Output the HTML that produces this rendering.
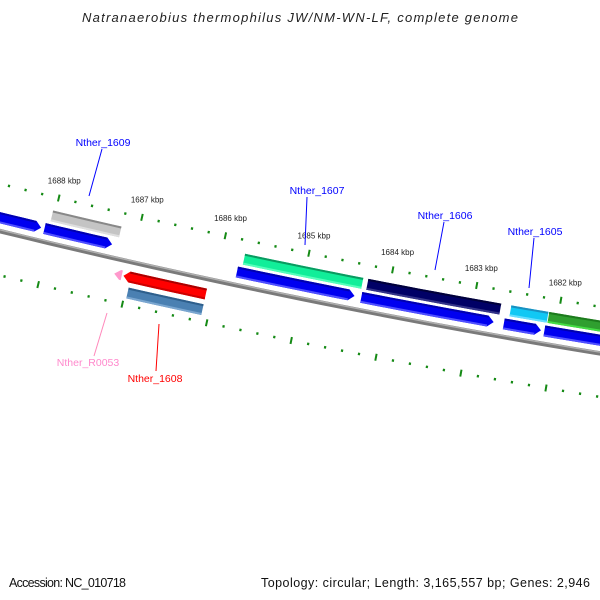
<!DOCTYPE html>
<html><head><meta charset="utf-8"><style>
html,body{margin:0;padding:0;background:#fff;}
svg{display:block;font-family:"Liberation Sans","DejaVu Sans",sans-serif;}
</style></head><body>
<svg id="map" width="600" height="600" viewBox="0 0 600 600">
<rect width="600" height="600" fill="#fff"/>
<text x="300" y="22" text-anchor="middle" font-size="13" font-style="italic" fill="#222" textLength="436">Natranaerobius thermophilus JW/NM-WN-LF, complete genome</text>
<g id="ticks"></g>
<g id="backbone"></g>
<g id="genes"></g>
<g id="labels"></g>
<text x="9" y="587" font-size="12.5" fill="#111" textLength="117">Accession: NC_010718</text>
<text x="590" y="587" text-anchor="end" font-size="12.5" fill="#111" textLength="329">Topology: circular; Length: 3,165,557 bp; Genes: 2,946</text>
</svg>
<script>
// data
const tickKbp = [1680,1681,1682,1683,1684,1685,1686,1687,1688,1689,1690];
const tickLabels = ["1680 kbp","1681 kbp","1682 kbp","1683 kbp","1684 kbp","1685 kbp","1686 kbp","1687 kbp","1688 kbp","1689 kbp","1690 kbp"];
const geneNames = ["cds-left","Nther_1609","cds-1609","Nther_1607","cds-1607","Nther_1606","cds-1606","Nther_1605","cds-1605","gene-right","cds-right","Nther_1608","Nther_1608_gene","Nther_R0053"];
const geneStart = [1689.5,1688.03,1688.08,1685.73,1685.78,1684.26,1684.30,1682.56,1682.61,1682.11,1682.13,1686.08,1686.97,1687.08];
const geneEnd   = [1688.12,1687.21,1687.27,1684.32,1684.38,1682.68,1682.73,1682.12,1682.17,1680.5,1680.5,1687.06,1686.08,1687.17];
const geneLane  = [0,1,0,1,0,1,0,1,0,1,0,2,3,2];
const geneArrow = [1,0,1,0,1,0,1,0,1,0,1,1,0,1];
const geneFill  = ["#0000f0","#c4c4c4","#0000f0","#11ee99","#0000f0","#000066","#0000f0","#11c8f4","#0000f0","#2f9f2f","#0000f0","#ff0000","#4a80b2","#ff99cc"];
const geneEdgeA = ["#0000b0","#888888","#0000b0","#0a9a60","#0000b0","#00003a","#0000b0","#1a90c0","#0000b0","#1d7a1d","#0000b0","#aa0000","#2e5f8c","#ff99cc"];
const geneEdgeB = ["#5050ff","#dedede","#5050ff","#55ffbb","#5050ff","#333388","#5050ff","#66ddff","#5050ff","#44dd44","#5050ff","#cc0000","#7aa6d0","#ff99cc"];

// geometry
const cx=1854, cy=-7334;
const laneR=[7776,7762,7804,7820];
const halfW=5.5, R_TICK_OUT=7743, R_TICK_IN=7832, R_BACK=7789;
const NS="http://www.w3.org/2000/svg";
function ang(k){return (-11.51-(k-1685)*0.632)*Math.PI/180;}
function pt(k,r){const a=ang(k);return [cx+r*Math.sin(a), cy+r*Math.cos(a)];}
function kbpPerPx(r){return 1/(r*0.632*Math.PI/180);}
function arcPts(k1,k2,r,n){const out=[];for(let i=0;i<=n;i++){out.push(pt(k1+(k2-k1)*i/n,r));}return out;}
function mk(tag,attrs,parent){const e=document.createElementNS(NS,tag);for(const a in attrs)e.setAttribute(a,attrs[a]);parent.appendChild(e);return e;}
function fmt(p){return p.map(q=>q[0].toFixed(2)+","+q[1].toFixed(2)).join(" ");}

// ticks
const tg=document.getElementById('ticks');
for(let i=0;i<=50;i++){
  const k=1680+i*0.2;
  const major=(i%5===0);
  [R_TICK_OUT,R_TICK_IN].forEach(function(rr,j){
    const len=major?7:2.5;
    const p1=pt(k,rr-len/2),p2=pt(k,rr+len/2);
    const l=mk('line',{x1:p1[0],y1:p1[1],x2:p2[0],y2:p2[1],stroke:'#158a15','stroke-width':major?2:2.2},tg);
    
    
  });
}
tickKbp.forEach(function(k,i){
  const p=pt(k,R_TICK_OUT-15);
  if(p[0]<-30||p[0]>630)return;
  const t=mk('text',{x:p[0]+2,y:p[1],'text-anchor':'middle','font-size':'8',fill:'#222'},tg);
  t.textContent=tickLabels[i];
  
  
});

// backbone
const bg=document.getElementById('backbone');
const b1=mk('polyline',{points:fmt(arcPts(1690,1680,R_BACK,40)),fill:'none',stroke:'#7a7a7a','stroke-width':4.5},bg);


const b2=mk('polyline',{points:fmt(arcPts(1690,1680,R_BACK-1.3,40)),fill:'none',stroke:'#b0b0b0','stroke-width':1.4},bg);



// genes
const gg=document.getElementById('genes');
function genePoly(a,b,rc,hw,arrow){
  const dir=(b>a)?1:-1;
  let head=arrow?Math.min(6*kbpPerPx(rc),Math.abs(b-a)):0;
  const bb=b-dir*head;
  const n=Math.max(2,Math.ceil(Math.abs(a-b)*6));
  let pts=arcPts(a,bb,rc-hw,n);
  if(arrow){pts.push(pt(b,rc));}
  pts=pts.concat(arcPts(bb,a,rc+hw,n));
  return pts;
}
for(let i=0;i<geneNames.length;i++){
  const rc=laneR[geneLane[i]];
  const a=geneStart[i],b=geneEnd[i];
  const g=mk('g',{},gg);
  
  
  if(geneNames[i]==="Nther_R0053"){
    const p=mk('polygon',{points:fmt(genePoly(a,b,rc,5,true)),fill:geneFill[i]},g);
    
    
    continue;
  }
  const p=mk('polygon',{points:fmt(genePoly(a,b,rc,halfW,geneArrow[i]===1)),fill:geneFill[i]},g);
  
  
  const dir=(b>a)?1:-1;
  const head=geneArrow[i]?6*kbpPerPx(rc):0;
  const top=mk('polyline',{points:fmt(arcPts(a,b-dir*head,rc-halfW+1,8)),fill:'none',stroke:geneEdgeA[i],'stroke-width':2},g);
  
  
  const bot=mk('polyline',{points:fmt(arcPts(a,b-dir*head,rc+halfW-1,8)),fill:'none',stroke:geneEdgeB[i],'stroke-width':2},g);
  
  
}
</script>
<svg width="600" height="600" style="position:absolute;left:0;top:0">
<g font-family="Liberation Sans, DejaVu Sans, sans-serif" font-size="10.5">
<line x1="102" y1="149" x2="89" y2="196" stroke="#0000ff" stroke-width="1"/>
<text x="103" y="146" text-anchor="middle" fill="#0000ff">Nther_1609</text>
<line x1="307" y1="197" x2="305" y2="245" stroke="#0000ff" stroke-width="1"/>
<text x="317" y="194" text-anchor="middle" fill="#0000ff">Nther_1607</text>
<line x1="444" y1="222" x2="435" y2="270" stroke="#0000ff" stroke-width="1"/>
<text x="445" y="219" text-anchor="middle" fill="#0000ff">Nther_1606</text>
<line x1="534" y1="238" x2="529" y2="288" stroke="#0000ff" stroke-width="1"/>
<text x="535" y="235" text-anchor="middle" fill="#0000ff">Nther_1605</text>
<line x1="107" y1="313" x2="94" y2="356" stroke="#ff88bb" stroke-width="1"/>
<text x="88" y="366" text-anchor="middle" fill="#ff88cc">Nther_R0053</text>
<line x1="159" y1="324" x2="156" y2="371" stroke="#ff0000" stroke-width="1"/>
<text x="155" y="382" text-anchor="middle" fill="#ff0000">Nther_1608</text>
</g>
</svg>
</body></html>
